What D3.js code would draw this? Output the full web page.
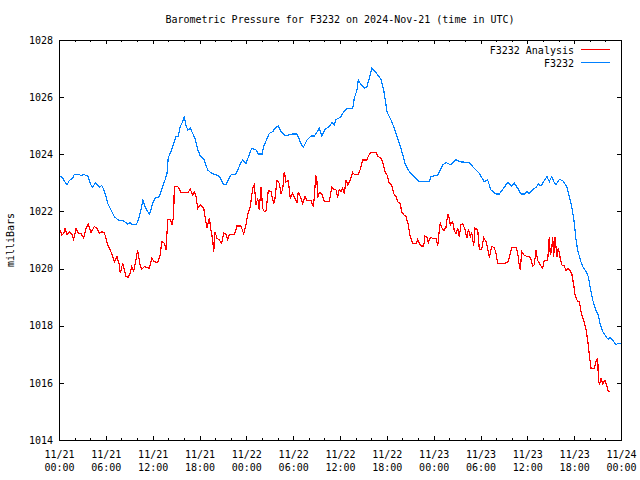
<!DOCTYPE html>
<html><head><meta charset="utf-8">
<script src="https://cdn.jsdelivr.net/npm/d3@7/dist/d3.min.js"></script>
<style>
body{margin:0;background:#fff}
svg{display:block}
text{font-family:"DejaVu Sans Mono",monospace;font-size:10px;fill:#000}
</style></head>
<body><svg id="chart" width="640" height="480"></svg>
<script>
const titleText = "Barometric Pressure for F3232 on 2024-Nov-21 (time in UTC)";
const yAxisLabel = "milliBars";
const seriesNames = ["F3232 Analysis", "F3232"];
const yTickValues = [1014, 1016, 1018, 1020, 1022, 1024, 1026, 1028];
const xMajorTickHours = [0, 6, 12, 18, 24, 30, 36, 42, 48, 54, 60, 66, 72];
const startDate = "2024-11-21T00:00:00Z";

// F3232 Analysis (hours since 11/21 00:00 UTC, mb)
const analysisHours = [
0.17,0.35,0.60,0.77,1.02,1.32,1.63,1.88,2.18,2.47,
2.82,3.16,3.46,3.75,4.10,4.52,4.87,5.16,5.47,5.80,
6.02,6.24,6.57,6.88,7.08,7.43,7.73,7.85,8.16,8.37,
8.58,8.88,9.13,9.31,9.57,9.86,10.08,10.34,10.59,10.93,
11.57,11.88,12.21,12.64,12.98,13.16,13.49,13.71,13.93,14.26,
14.48,14.69,14.77,15.21,15.63,16.53,16.82,17.13,17.33,17.55,
17.77,18.10,18.54,18.83,18.96,19.26,19.47,19.69,19.82,19.99,
20.24,20.54,20.84,21.10,21.40,21.61,21.82,22.46,22.80,23.32,
23.66,23.96,24.17,24.51,24.82,25.02,25.24,25.46,25.66,25.88,
26.10,26.30,26.52,26.81,27.16,27.51,27.67,27.93,28.22,28.44,
28.66,28.86,29.08,29.38,29.63,29.94,30.23,30.49,30.66,30.91,
31.22,31.52,31.77,32.28,32.54,32.71,32.89,33.05,33.14,33.35,
33.66,33.99,34.63,34.94,35.27,35.49,35.70,35.91,36.13,36.35,
36.55,36.77,36.99,37.32,37.63,37.92,38.34,38.60,38.91,39.46,
39.63,39.97,40.61,40.83,41.25,41.47,41.76,42.02,42.32,42.62,
42.88,43.17,43.39,43.72,43.90,44.16,44.45,44.75,45.00,45.31,
45.74,45.95,46.29,46.47,46.72,46.89,47.14,47.31,47.57,47.88,
48.30,48.52,48.72,48.85,49.03,49.29,49.58,49.80,50.00,50.13,
50.44,50.64,50.86,51.08,51.28,51.50,51.72,52.01,52.27,52.44,
52.69,52.87,53.13,53.30,53.64,53.85,54.15,54.41,54.70,54.92,
55.13,55.43,55.77,55.98,56.20,57.14,57.56,57.82,58.00,58.55,
58.77,58.97,59.10,59.28,59.54,59.96,60.38,60.69,60.89,61.11,
61.33,61.66,61.97,62.17,62.61,62.81,62.94,63.12,63.25,63.38,
63.54,63.80,63.97,64.22,64.40,64.73,64.95,65.25,65.68,65.94,
66.11,66.45,66.66,66.96,67.22,67.52,67.73,67.94,68.16,68.58,
68.80,69.02,69.09,69.22,69.44,69.66,69.95,70.21,70.37,70.63];
const analysisValues = [
1021.35,1021.18,1021.23,1021.41,1021.18,1021.29,1021.21,1021.02,1021.41,1021.23,
1021.23,1021.06,1021.41,1021.56,1021.26,1021.47,1021.41,1021.23,1021.29,1021.26,
1021.06,1020.83,1020.65,1020.42,1020.24,1020.42,1020.13,1019.84,1020.19,1019.95,
1019.72,1019.70,1019.84,1020.07,1019.93,1020.30,1020.65,1020.19,1019.97,1020.07,
1020.01,1020.36,1020.24,1020.21,1020.48,1020.94,1020.89,1020.65,1021.70,1021.72,
1021.53,1021.82,1022.87,1022.87,1022.67,1022.67,1022.77,1022.58,1022.69,1022.52,
1022.11,1022.23,1022.11,1021.61,1021.44,1021.76,1021.35,1021.00,1020.59,1021.29,
1021.06,1021.00,1020.89,1021.26,1021.18,1021.02,1021.18,1021.18,1021.49,1021.49,
1021.21,1021.53,1021.88,1022.17,1022.81,1022.93,1022.23,1022.46,1022.05,1022.87,
1022.11,1021.99,1022.03,1022.73,1022.69,1022.28,1022.46,1023.08,1022.99,1022.63,
1022.77,1023.39,1023.04,1023.08,1022.46,1022.63,1022.46,1022.31,1022.69,1022.52,
1022.28,1022.54,1022.38,1022.38,1022.19,1022.46,1023.28,1023.04,1022.49,1022.66,
1022.63,1022.34,1022.34,1022.84,1022.77,1022.75,1022.49,1022.77,1022.69,1022.81,
1022.63,1023.10,1022.93,1023.10,1023.36,1023.28,1023.31,1023.47,1023.80,1023.80,
1023.94,1024.06,1024.06,1023.94,1023.86,1023.71,1023.39,1023.28,1022.98,1022.93,
1022.63,1022.52,1022.34,1022.28,1021.99,1021.88,1021.82,1021.53,1021.12,1020.89,
1020.86,1021.02,1020.83,1020.79,1020.79,1021.14,1021.09,1020.91,1021.09,1021.06,
1021.06,1020.79,1021.33,1021.61,1021.44,1021.33,1021.44,1021.91,1021.76,1021.53,
1021.64,1021.33,1021.21,1021.41,1021.12,1021.53,1021.58,1021.37,1021.06,1021.37,
1021.12,1021.26,1020.79,1021.41,1021.37,1020.67,1020.67,1021.09,1020.94,1020.71,
1020.39,1020.77,1020.74,1020.53,1020.19,1020.19,1020.24,1020.53,1020.74,1020.74,
1020.53,1020.09,1019.95,1020.59,1020.48,1020.42,1020.40,1020.09,1020.13,1020.65,
1020.28,1020.13,1020.01,1020.28,1020.28,1021.12,1020.48,1020.65,1021.12,1020.42,
1021.12,1020.42,1020.71,1020.36,1020.13,1020.09,1019.93,1020.01,1019.84,1019.43,
1019.08,1018.84,1018.84,1018.38,1018.20,1017.85,1017.50,1016.98,1016.51,1016.51,
1016.74,1016.86,1016.22,1015.93,1016.16,1015.96,1016.10,1015.87,1015.69,1015.69];

// F3232 station observations
const stationHours = [
0.17,0.47,1.02,1.32,1.76,1.96,2.60,2.82,3.16,3.46,
3.75,4.01,4.32,4.65,4.96,5.16,5.47,5.73,6.02,6.24,
6.66,7.08,7.60,8.16,8.58,8.80,9.13,9.31,9.86,10.08,
10.42,10.76,11.02,11.36,11.62,12.00,12.30,12.85,13.16,13.58,
13.84,14.00,14.35,14.69,14.99,15.28,15.54,15.85,16.05,16.27,
16.49,16.82,17.13,17.42,17.77,18.10,18.61,19.05,19.56,20.11,
20.54,20.75,21.10,21.40,21.69,22.04,22.68,22.89,23.32,23.53,
23.96,24.51,24.69,25.24,25.53,26.01,26.30,26.94,27.38,27.67,
28.10,28.44,29.08,29.50,29.94,30.49,31.00,31.30,31.77,32.28,
32.71,33.35,33.66,34.08,34.63,34.98,35.27,35.49,36.04,36.35,
36.86,37.63,37.83,38.18,38.34,38.60,39.11,39.46,39.75,40.06,
40.39,40.83,41.25,41.60,42.02,42.53,42.96,43.39,43.81,44.33,
44.88,45.52,46.16,47.44,47.66,48.52,49.16,49.58,50.22,50.86,
51.28,52.56,53.00,53.85,54.49,54.92,55.34,55.98,56.41,56.84,
57.48,58.00,58.33,58.77,59.19,59.61,59.96,60.25,60.69,61.11,
61.40,61.75,62.26,62.52,62.81,63.12,63.45,63.67,64.10,64.53,
65.04,65.38,65.68,65.94,66.11,66.24,66.45,66.79,67.09,67.52,
67.81,68.07,68.37,68.80,69.09,69.35,69.66,70.08,70.37,70.63,
70.94,71.36,71.65,72.00];
const stationValues = [
1023.24,1023.16,1022.93,1023.08,1023.16,1023.30,1023.30,1023.24,1023.30,1023.26,
1023.22,1022.96,1022.84,1023.01,1022.93,1022.84,1022.91,1022.77,1022.52,1022.28,
1022.05,1021.82,1021.70,1021.68,1021.61,1021.56,1021.61,1021.53,1021.53,1021.64,
1021.96,1022.40,1022.17,1021.99,1021.91,1022.28,1022.46,1022.52,1022.77,1023.10,
1023.33,1023.89,1024.09,1024.38,1024.62,1024.64,1024.97,1025.14,1025.32,1025.02,
1024.85,1024.91,1024.73,1024.56,1024.17,1023.94,1023.80,1023.45,1023.33,1023.28,
1023.22,1023.12,1022.93,1022.93,1023.10,1023.28,1023.31,1023.45,1023.71,1023.80,
1023.68,1024.09,1024.21,1024.15,1024.01,1024.01,1024.33,1024.73,1024.79,1024.91,
1024.99,1024.79,1024.64,1024.68,1024.71,1024.71,1024.38,1024.24,1024.50,1024.64,
1024.64,1024.91,1024.64,1024.87,1024.97,1025.11,1025.02,1025.22,1025.29,1025.43,
1025.61,1025.61,1025.96,1026.25,1026.60,1026.48,1026.31,1026.37,1026.66,1027.01,
1026.93,1026.78,1026.63,1026.25,1025.49,1025.20,1024.91,1024.56,1024.21,1023.68,
1023.39,1023.22,1023.04,1023.04,1023.22,1023.28,1023.63,1023.71,1023.63,1023.82,
1023.74,1023.71,1023.57,1023.33,1023.04,1023.10,1022.75,1022.61,1022.61,1022.77,
1023.01,1022.89,1022.99,1022.81,1022.61,1022.61,1022.69,1022.63,1022.77,1022.84,
1022.96,1022.89,1023.12,1023.22,1023.04,1023.22,1023.01,1022.93,1023.12,1023.08,
1022.87,1022.52,1022.17,1021.76,1021.35,1021.00,1020.65,1020.30,1020.07,1019.89,
1019.72,1019.31,1018.90,1018.53,1018.38,1018.03,1017.79,1017.62,1017.52,1017.59,
1017.50,1017.33,1017.39,1017.39];

const colors = ["#ff0000", "#0080ff"];
const svg = d3.select("#chart");
const L = 59, R = 621, T = 40, B = 440;
const t0 = new Date(startDate).getTime();
const toDate = h => new Date(t0 + h * 3600e3);

const x = d3.scaleUtc().domain([toDate(0), toDate(72)]).range([L, R]);
const y = d3.scaleLinear().domain([1014, 1028]).range([B, T]);

// title
svg.append("text").attr("x", (L + R) / 2).attr("y", 23)
  .attr("text-anchor", "middle").text(titleText);

// y label
svg.append("text").attr("transform", "translate(14,240) rotate(-90)")
  .attr("text-anchor", "middle").text(yAxisLabel);

const majorDates = xMajorTickHours.map(toDate);
const minorDates = x.ticks(d3.utcHour.every(2)).filter(d => !majorDates.some(m => +m === +d));

function styleAxis(g) {
  g.select(".domain").remove();
  g.selectAll(".tick line").attr("stroke", "#000").attr("shape-rendering", "crispEdges");
  g.selectAll(".tick text").attr("font-family", null).attr("font-size", null).attr("fill", "#000");
}

// bottom major with labels
const bottom = svg.append("g").attr("transform", `translate(0,${B})`)
  .call(d3.axisBottom(x).tickValues(majorDates).tickSizeInner(-4).tickSizeOuter(0).tickFormat(""))
  .call(styleAxis);
bottom.selectAll(".tick text").remove();
bottom.selectAll(".tick").append("text")
  .attr("text-anchor", "middle")
  .each(function(d) {
    const t = d3.select(this);
    t.append("tspan").attr("x", 0).attr("y", 17.5).text(d3.utcFormat("%m/%d")(d));
    t.append("tspan").attr("x", 0).attr("y", 30.5).text(d3.utcFormat("%H:%M")(d));
  });
svg.append("g").attr("transform", `translate(0,${B})`)
  .call(d3.axisBottom(x).tickValues(minorDates).tickSizeInner(-2).tickSizeOuter(0).tickFormat(""))
  .call(styleAxis);
// top
svg.append("g").attr("transform", `translate(0,${T})`)
  .call(d3.axisTop(x).tickValues(majorDates).tickSizeInner(-4).tickSizeOuter(0).tickFormat(""))
  .call(styleAxis);
svg.append("g").attr("transform", `translate(0,${T})`)
  .call(d3.axisTop(x).tickValues(minorDates).tickSizeInner(-2).tickSizeOuter(0).tickFormat(""))
  .call(styleAxis);
// left
svg.append("g").attr("transform", `translate(${L},0)`)
  .call(d3.axisLeft(y).tickValues(yTickValues).tickSizeInner(-5).tickSizeOuter(0).tickPadding(6).tickFormat(d3.format("d")))
  .call(styleAxis);
// right
svg.append("g").attr("transform", `translate(${R},0)`)
  .call(d3.axisRight(y).tickValues(yTickValues).tickSizeInner(-4).tickSizeOuter(0).tickFormat(""))
  .call(styleAxis);

// frame
svg.append("rect").attr("x", L + 0.5).attr("y", T + 0.5)
  .attr("width", R - L).attr("height", B - T)
  .attr("fill", "none").attr("stroke", "#000").attr("shape-rendering", "crispEdges");

const line = d3.line().x(d => x(toDate(d[0]))).y(d => y(d[1]));
const series = [
  d3.zip(analysisHours, analysisValues),
  d3.zip(stationHours, stationValues)
];
series.forEach((s, i) => {
  svg.append("path").datum(s).attr("d", line)
    .attr("fill", "none").attr("stroke", colors[i]).attr("stroke-width", 1.2)
    .attr("shape-rendering", "crispEdges");
});

// legend
const legend = svg.append("g");
seriesNames.forEach((n, i) => {
  const yy = 49.5 + i * 13;
  legend.append("text").attr("x", 574).attr("y", yy + 4).attr("text-anchor", "end").text(n);
  legend.append("line").attr("x1", 581).attr("x2", 610).attr("y1", yy).attr("y2", yy)
    .attr("stroke", colors[i]).attr("stroke-width", 1).attr("shape-rendering", "crispEdges");
});
</script></body></html>
